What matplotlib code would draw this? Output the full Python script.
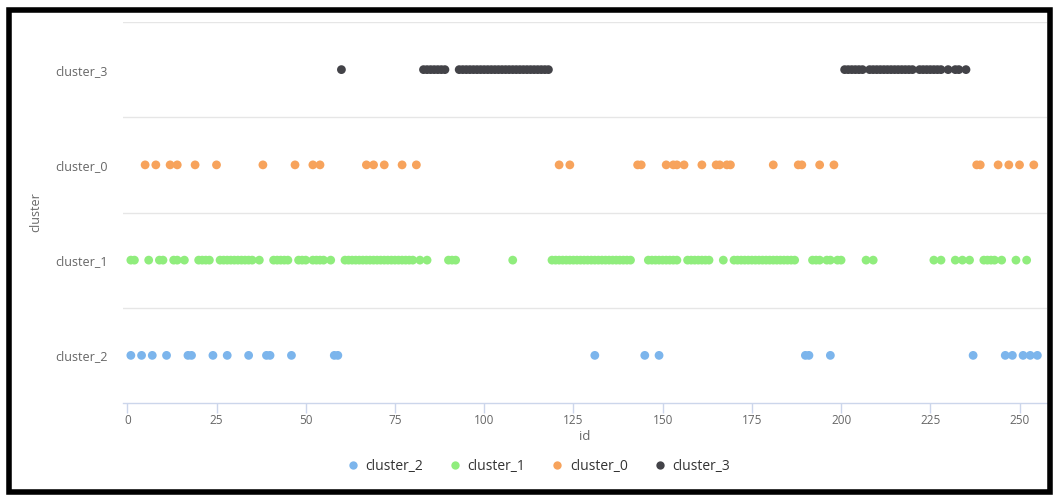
import matplotlib
matplotlib.use("Agg")
import matplotlib.pyplot as plt
from matplotlib.patches import Rectangle
from matplotlib.lines import Line2D

# ---- data ----
categories = ["cluster_2", "cluster_1", "cluster_0", "cluster_3"]
colors = ["#7cb5ec", "#90ed7d", "#f7a35c", "#434348"]

cluster_2_ids = [1, 4, 7, 11, 17, 18, 24, 28, 34, 39, 40, 46, 58, 59,
                 131, 145, 149, 190, 191, 197, 237, 246, 248, 251, 253, 255]

cluster_1_ids = [1, 2, 6, 9, 10, 13, 14, 16, 20, 21, 22, 23,
                 26, 27, 28, 29, 30, 31, 32, 33, 34, 35, 37,
                 41, 42, 43, 44, 45, 48, 49, 50, 52, 53, 54, 55, 57,
                 61, 62, 63, 64, 65, 66, 67, 68, 69, 70, 71, 72, 73, 74, 75, 76, 77, 78, 79, 80, 82, 84,
                 90, 91, 92, 108,
                 119, 120, 121, 122, 123, 124, 125, 126, 127, 128, 129, 130, 131, 132, 133, 134,
                 135, 136, 137, 138, 139, 140, 141,
                 146, 147, 148, 149, 150, 151, 152, 153, 154,
                 157, 158, 159, 160, 161, 162, 163, 167,
                 170, 171, 172, 173, 174, 175, 176, 177, 178, 179, 180, 181, 182, 183, 184, 185, 186, 187,
                 192, 193, 194, 196, 197, 199, 200, 207, 209,
                 226, 228, 232, 234, 236, 240, 241, 242, 243, 245, 249, 252]

cluster_0_ids = [5, 8, 12, 14, 19, 25, 38, 47, 52, 54, 67, 69, 72, 77, 81,
                 121, 124, 143, 144, 151, 153, 154, 156, 161, 165, 166, 168, 169,
                 181, 188, 189, 194, 198, 238, 239, 244, 247, 250, 254]

cluster_3_ids = [60, 83, 84, 85, 86, 87, 88, 89,
                 93, 94, 95, 96, 97, 98, 99, 100, 101, 102, 103, 104, 105, 106, 107,
                 108, 109, 110, 111, 112, 113, 114, 115, 116, 117, 118,
                 201, 202, 203, 204, 205, 206, 208, 209, 210, 211, 212, 213, 214, 215,
                 216, 217, 218, 219, 220, 222, 223, 224, 225, 226, 227, 228, 230, 232, 233, 235]

series = [cluster_2_ids, cluster_1_ids, cluster_0_ids, cluster_3_ids]
x_ticks = [0, 25, 50, 75, 100, 125, 150, 175, 200, 225, 250]

# ---- figure ----
plt.rcParams["font.family"] = ["Open Sans", "DejaVu Sans"]
W, H = 1053, 495
fig = plt.figure(figsize=(W / 100, H / 100), dpi=100)
ax = fig.add_axes([123 / W, 1 - 403 / H, (1047 - 123) / W, (403 - 22) / H])

for i, (name, ids, c) in enumerate(zip(categories, series, colors)):
    ax.scatter(ids, [i] * len(ids), s=40, color=c, edgecolors="none", zorder=3, label=name)

ax.set_xlim(-1.2, 257.7)
ax.set_ylim(-0.5, 3.5)
ax.set_yticks(range(len(categories)))
ax.set_yticklabels(categories)
ax.set_yticks([0.5, 1.5, 2.5, 3.5], minor=True)
ax.grid(True, which="minor", axis="y", color="#e6e6e6", linewidth=1)
ax.tick_params(axis="y", which="both", length=0, labelsize=9, labelcolor="#666666", pad=11)
ax.set_xticks(x_ticks)
ax.tick_params(axis="x", length=7, width=1, color="#ccd6eb", labelsize=8.5,
               labelcolor="#666666", pad=1)

for s in ["left", "right", "top"]:
    ax.spines[s].set_visible(False)
ax.spines["bottom"].set_color("#ccd6eb")
ax.spines["bottom"].set_linewidth(1)

ax.set_xlabel("id", fontsize=9.5, color="#666666", labelpad=2)
ax.set_ylabel("cluster", fontsize=9, color="#666666", labelpad=9)

handles = [Line2D([0], [0], marker="o", linestyle="none", markersize=6,
                  markerfacecolor=c, markeredgecolor="none") for c in colors]
fig.legend(handles, categories, loc="center", bbox_to_anchor=(538 / W, 1 - 466 / H),
           ncol=4, frameon=False, fontsize=10, labelcolor="#333333",
           handletextpad=0.4, columnspacing=1.8, handlelength=1.0)

# black outer frame
fig.patches.append(Rectangle((9 / W, 3 / H), (1050 - 9) / W, (485 - 3) / H,
                             transform=fig.transFigure, fill=False,
                             edgecolor="black", linewidth=4))

fig.savefig("out.png", dpi=100)
